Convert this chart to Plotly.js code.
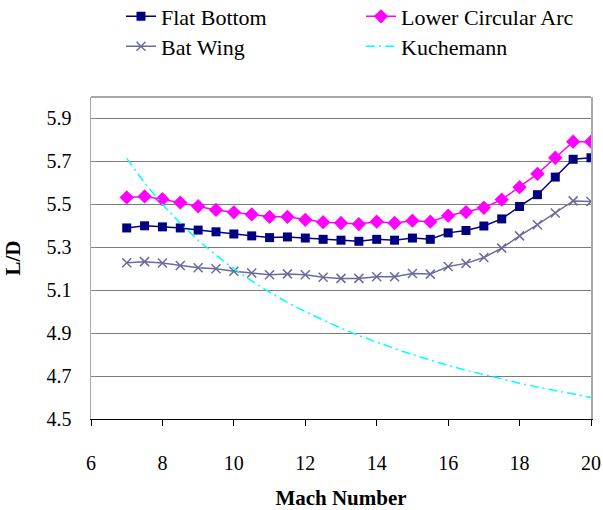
<!DOCTYPE html>
<html>
<head>
<meta charset="utf-8">
<script src="https://cdn.plot.ly/plotly-3.0.1.min.js"></script>
<style>html,body{margin:0;padding:0;background:#fff;}#chart{width:603px;height:510px;}</style>
</head>
<body>
<div id="chart"></div>
<script>
const mach = [7,7.5,8,8.5,9,9.5,10,10.5,11,11.5,12,12.5,13,13.5,14,14.5,15,15.5,16,16.5,17,17.5,18,18.5,19,19.5,20];
const flatBottom = [5.39,5.40,5.395,5.39,5.38,5.372,5.362,5.353,5.345,5.348,5.343,5.337,5.333,5.328,5.337,5.333,5.343,5.337,5.367,5.378,5.399,5.432,5.49,5.545,5.627,5.71,5.717];
const lowerCircularArc = [5.532,5.537,5.524,5.508,5.491,5.474,5.463,5.453,5.442,5.442,5.428,5.417,5.413,5.408,5.419,5.413,5.424,5.419,5.447,5.464,5.484,5.522,5.58,5.642,5.717,5.792,5.792];
const batWing = [5.228,5.233,5.227,5.215,5.205,5.2,5.188,5.18,5.172,5.176,5.172,5.16,5.155,5.155,5.163,5.163,5.178,5.175,5.21,5.225,5.252,5.296,5.353,5.405,5.46,5.516,5.513];
const kuchemann = [5.714,5.600,5.500,5.412,5.333,5.263,5.200,5.143,5.091,5.043,5.000,4.960,4.923,4.889,4.857,4.828,4.800,4.774,4.750,4.727,4.706,4.686,4.667,4.649,4.632,4.615,4.600];
const xTicks = [6,8,10,12,14,16,18,20];
const yTicks = [4.5,4.7,4.9,5.1,5.3,5.5,5.7,5.9];

const serif = 'Liberation Serif';
const traces = [
  {x: mach, y: flatBottom, name: 'Flat Bottom', mode: 'lines+markers', legend: 'legend',
   line: {color: '#000080', width: 1.5}, marker: {symbol: 'square', size: 9, color: '#000080'}},
  {x: mach, y: lowerCircularArc, name: 'Lower Circular Arc', mode: 'lines+markers', legend: 'legend2',
   line: {color: '#FF00FF', width: 1.5}, marker: {symbol: 'diamond', size: 11, color: '#FF00FF'}},
  {x: mach, y: batWing, name: 'Bat Wing', mode: 'lines+markers', legend: 'legend3',
   line: {color: '#6B6B9E', width: 1.5}, marker: {symbol: 'x-thin', size: 9, line: {color: '#6B6B9E', width: 1.5}}},
  {x: mach, y: kuchemann, name: 'Kuchemann', mode: 'lines', legend: 'legend4',
   line: {color: '#00FFFF', width: 1.5, dash: '9px,4px,2px,4px'}}
];
const legBase = {orientation: 'v', xanchor: 'left', yanchor: 'middle',
  bgcolor: 'rgba(0,0,0,0)', font: {family: serif, size: 22, color: '#000'}};
const layout = {
  width: 603, height: 510,
  margin: {l: 91, r: 12, t: 97, b: 91, autoexpand: false},
  paper_bgcolor: '#fff', plot_bgcolor: '#fff',
  font: {family: serif},
  showlegend: true,
  legend: Object.assign({}, legBase, {x: 0.060, y: 1.250}),
  legend2: Object.assign({}, legBase, {x: 0.540, y: 1.250}),
  legend3: Object.assign({}, legBase, {x: 0.060, y: 1.157}),
  legend4: Object.assign({}, legBase, {x: 0.540, y: 1.157}),
  xaxis: {
    range: [6, 20], tickvals: xTicks, ticktext: xTicks.map(String),
    showgrid: false, zeroline: false,
    showline: true, linecolor: '#000', linewidth: 1,
    ticks: 'outside', ticklen: 6, tickcolor: '#000', ticklabelstandoff: 20,
    tickfont: {family: serif, size: 20, color: '#000'},
    title: {text: 'Mach Number', font: {family: serif, size: 21, color: '#000', weight: 'bold'}, standoff: 22},
    automargin: false
  },
  yaxis: {
    range: [4.5, 6.0], tickvals: yTicks, ticktext: yTicks.map(v => v.toFixed(1)),
    showgrid: true, gridcolor: '#7a7a7a', gridwidth: 1, zeroline: false,
    showline: true, linecolor: '#aaaaaa', linewidth: 1.5, mirror: true,
    ticks: 'inside', ticklen: 5, tickcolor: '#888', ticklabelstandoff: 14,
    tickfont: {family: serif, size: 20, color: '#000'},
    title: {text: 'L/D', font: {family: serif, size: 21, color: '#000', weight: 'bold'}, standoff: 20},
    automargin: false
  },
  shapes: [
    {type: 'line', xref: 'paper', yref: 'paper', x0: 0, x1: 1, y0: 1, y1: 1, line: {color: '#888', width: 1.5}}
  ]
};
Plotly.newPlot('chart', traces, layout, {displayModeBar: false, staticPlot: true});
</script>
</body>
</html>
